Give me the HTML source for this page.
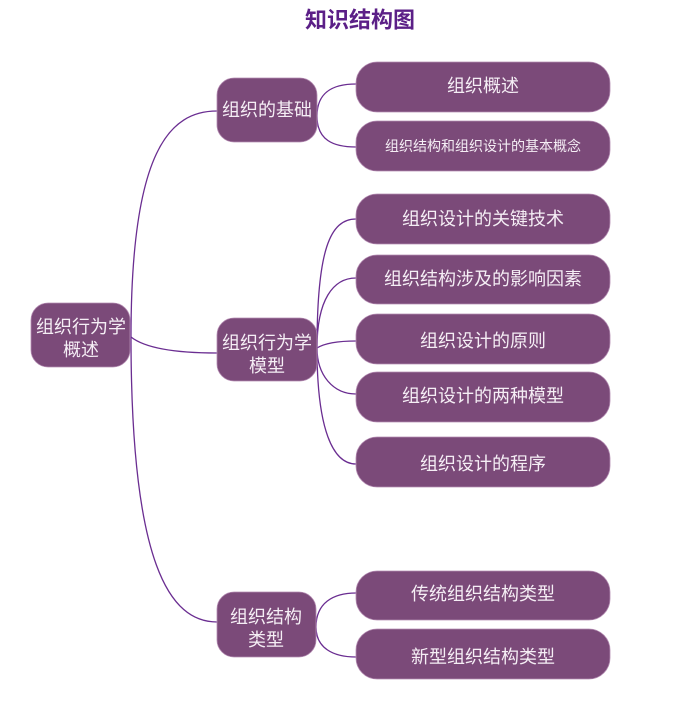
<!DOCTYPE html>
<html>
<head>
<meta charset="utf-8">
<style>
html,body{margin:0;padding:0;background:#fff;}
body{width:679px;height:712px;overflow:hidden;}
svg{display:block;}
text{font-family:"Liberation Sans","Noto Sans CJK SC","WenQuanYi Zen Hei",sans-serif;}
.t{fill:#f5eef5;font-size:18px;text-anchor:middle;dominant-baseline:central;}
.s{fill:#f5eef5;font-size:14px;text-anchor:middle;dominant-baseline:central;}
.b{fill:#7b4a79;stroke:#b58db3;stroke-width:0.8;}
.c{fill:none;stroke:#6a2d91;stroke-width:1.3;}
</style>
</head>
<body>
<svg width="679" height="712" viewBox="0 0 679 712" xmlns="http://www.w3.org/2000/svg">
<text x="360" y="20" text-anchor="middle" dominant-baseline="central" font-size="22" font-weight="bold" fill="#5b1f87">知识结构图</text>

<!-- connectors level 1 -->
<path class="c" d="M131,337 C131,150 170,111 217,111"/>
<path class="c" d="M131,337 C145,348 175,353 217,353"/>
<path class="c" d="M131,337 C131,565 170,622 217,622"/>

<!-- connectors level 2 -->
<path class="c" d="M317,116 C317,92 333,84 356,84"/>
<path class="c" d="M317,116 C317,140 333,147 356,147"/>

<path class="c" d="M317,348 C317,250 330,219 356,219"/>
<path class="c" d="M317,348 C317,300 333,278 356,278"/>
<path class="c" d="M317,348 C325,343 338,341 356,341"/>
<path class="c" d="M317,348 C317,375 333,394 356,394"/>
<path class="c" d="M317,348 C317,430 333,464 356,464"/>

<path class="c" d="M316,627 C316,603 333,593 356,593"/>
<path class="c" d="M316,627 C316,648 333,657 356,657"/>

<!-- root -->
<rect class="b" x="31" y="303" width="99" height="64" rx="17"/>
<text class="t" x="81" y="327">组织行为学</text>
<text class="t" x="81" y="350">概述</text>

<!-- level 1 -->
<rect class="b" x="217" y="78" width="100" height="64" rx="17"/>
<text class="t" x="267" y="110">组织的基础</text>

<rect class="b" x="217" y="318" width="100" height="63" rx="17"/>
<text class="t" x="267" y="343">组织行为学</text>
<text class="t" x="267" y="366">模型</text>

<rect class="b" x="217" y="592" width="99" height="65" rx="17"/>
<text class="t" x="266" y="617">组织结构</text>
<text class="t" x="266" y="640">类型</text>

<!-- level 2 -->
<rect class="b" x="356" y="62" width="254" height="50" rx="21"/>
<text class="t" x="483" y="86">组织概述</text>
<rect class="b" x="356" y="121" width="254" height="50" rx="21"/>
<text class="s" x="483" y="146">组织结构和组织设计的基本概念</text>

<rect class="b" x="356" y="194" width="254" height="50" rx="21"/>
<text class="t" x="483" y="219">组织设计的关键技术</text>
<rect class="b" x="356" y="255" width="254" height="49" rx="21"/>
<text class="t" x="483" y="279">组织结构涉及的影响因素</text>
<rect class="b" x="356" y="314" width="254" height="50" rx="21"/>
<text class="t" x="483" y="341">组织设计的原则</text>
<rect class="b" x="356" y="372" width="254" height="50" rx="21"/>
<text class="t" x="483" y="396">组织设计的两种模型</text>
<rect class="b" x="356" y="437" width="254" height="50" rx="21"/>
<text class="t" x="483" y="464">组织设计的程序</text>

<rect class="b" x="356" y="571" width="254" height="49" rx="21"/>
<text class="t" x="483" y="594">传统组织结构类型</text>
<rect class="b" x="356" y="629" width="254" height="50" rx="21"/>
<text class="t" x="483" y="657">新型组织结构类型</text>
</svg>
</body>
</html>
